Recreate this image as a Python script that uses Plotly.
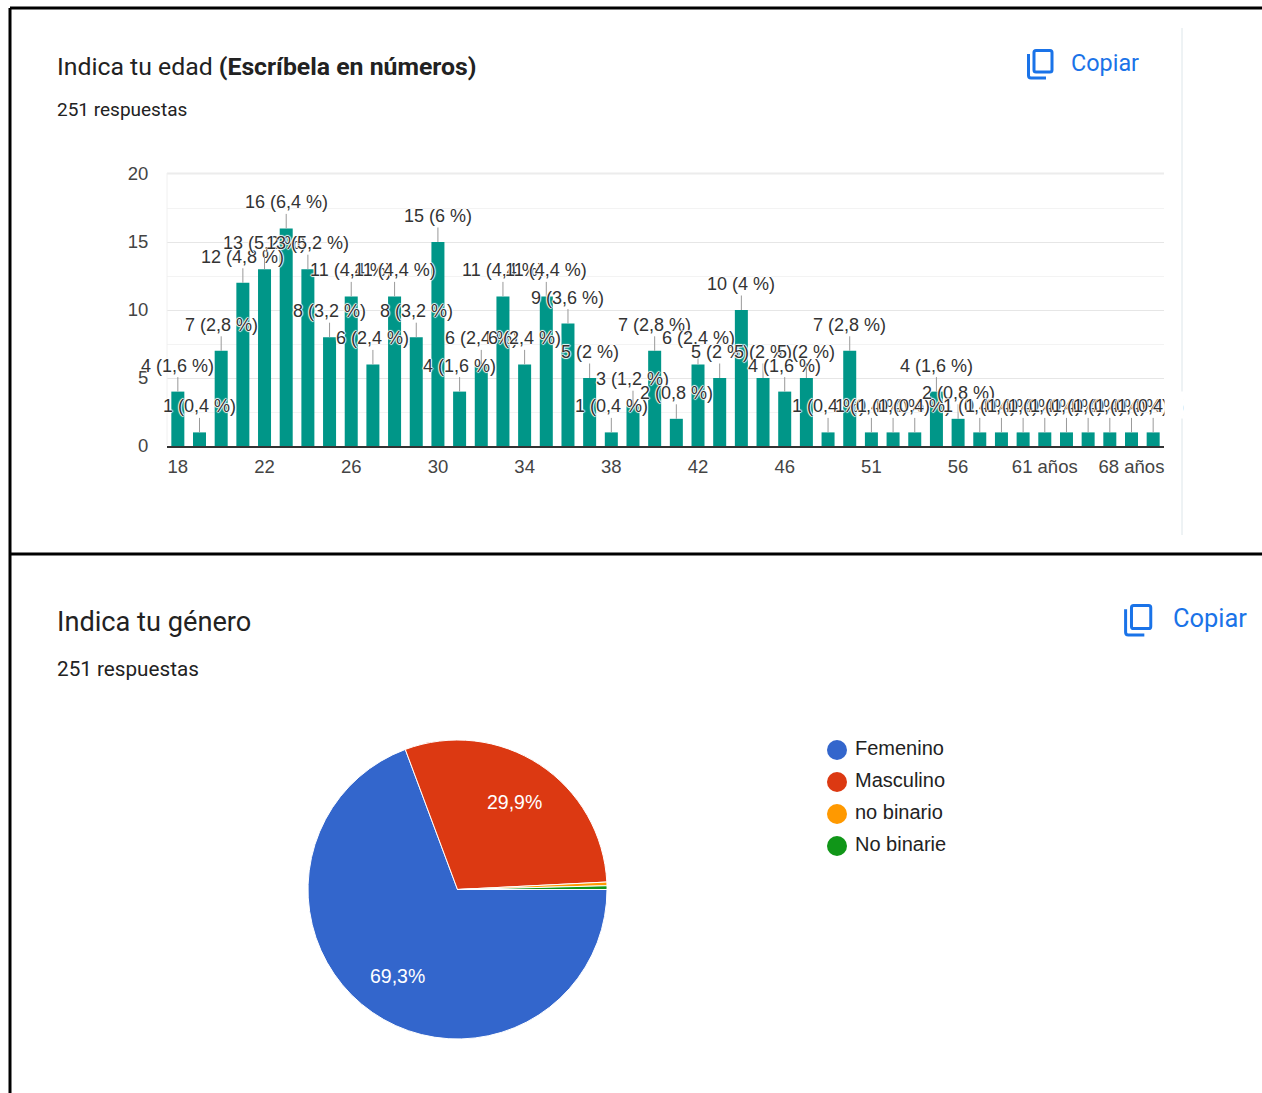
import plotly.graph_objects as go

W, H = 1262, 1093

# ---------- data ----------
age_categories = [str(a) for a in range(18, 50)] + ["51", "52", "54", "55", "56",
                  "57", "58", "60", "61 años", "62", "64", "65", "68 años", "70"]
age_counts = [4, 1, 7, 12, 13, 16, 13, 8, 11, 6, 11, 8, 15, 4, 6, 11, 6, 11, 9, 5, 1, 3, 7, 2,
              6, 5, 10, 5, 4, 5, 1, 7, 1, 1, 1, 4, 2, 1, 1, 1, 1, 1, 1, 1, 1, 1]
age_percent_labels = ["1,6", "0,4", "2,8", "4,8", "5,2", "6,4", "5,2", "3,2", "4,4", "2,4", "4,4", "3,2",
                      "6", "1,6", "2,4", "4,4", "2,4", "4,4", "3,6", "2", "0,4", "1,2", "2,8", "0,8",
                      "2,4", "2", "4", "2", "1,6", "2", "0,4", "2,8", "0,4", "0,4", "0,4", "1,6", "0,8",
                      "0,4", "0,4", "0,4", "0,4", "0,4", "0,4", "0,4", "0,4", "0,4"]
age_tick_step = 4

gender_names = ["Femenino", "Masculino", "no binario", "No binarie"]
gender_counts = [174, 75, 1, 1]
gender_labels = ["69,3%", "29,9%", "", ""]
gender_colors = ["#3366cc", "#dc3912", "#ff9900", "#109618"]

TEAL = "#009688"
INK = "#222222"
LABEL_INK = "#333333"
BLUE = "#1a73e8"
DIVIDER = "#dde6ea"
LABEL_FONT = "Liberation Sans, Arial, sans-serif"
UI_FONT = "Roboto, Arial, sans-serif"
HALO = "1px 0 1px #fff, -1px 0 1px #fff, 0 1px 1px #fff, 0 -1px 1px #fff"


def px(x):
    return x / W


def py(y):
    return 1 - y / H


fig = go.Figure()
age_index = list(range(len(age_categories)))

fig.add_trace(go.Bar(x=age_index, y=age_counts, marker=dict(color=TEAL, line=dict(width=0)),
                     width=0.6, showlegend=False, customdata=age_categories,
                     hovertemplate="%{customdata}: %{y}<extra></extra>"))

fig.add_trace(go.Pie(labels=gender_names, values=gender_counts, textinfo="none", sort=False,
                     direction="clockwise", rotation=90, showlegend=False,
                     marker=dict(colors=gender_colors, line=dict(color="#fff", width=1)),
                     domain=dict(x=[px(308), px(607)], y=[py(1039), py(740)])))

fig.add_trace(go.Scatter(x=[0] * len(gender_names), y=gender_names, xaxis="x2", yaxis="y2",
                         mode="markers", marker=dict(size=20, color=gender_colors), showlegend=False,
                         hoverinfo="y"))
fig.add_trace(go.Scatter(x=[18] * len(gender_names), y=gender_names, xaxis="x2", yaxis="y2",
                         mode="text", text=gender_names, textposition="middle right",
                         textfont=dict(family=LABEL_FONT, size=20, color=INK), showlegend=False,
                         hoverinfo="skip"))

annotations = []


def note(x, y, text, size, color=INK, font=UI_FONT, xanchor="left"):
    annotations.append(dict(xref="paper", yref="paper", x=px(x), y=py(y), text=text, showarrow=False,
                            xanchor=xanchor, yanchor="middle",
                            font=dict(family=font, size=size, color=color)))


for i, (v, pct) in enumerate(zip(age_counts, age_percent_labels)):
    annotations.append(dict(xref="x", yref="y", x=i, y=v, text=f"{v} ({pct} %)",
                            font=dict(family=LABEL_FONT, size=18, color=LABEL_INK, shadow=HALO),
                            showarrow=True, ax=0, ay=-26, arrowhead=0,
                            arrowwidth=1, arrowcolor="#999", standoff=0))

# trim the last label at the right edge of the plot, leaving the divider line visible between them
annotations.append(dict(xref="paper", yref="paper", x=px(1164), y=py(405), xanchor="left", yanchor="middle",
                        text=" ", showarrow=False, width=17.5, height=26, bgcolor="#fff", borderpad=0))
annotations.append(dict(xref="paper", yref="paper", x=px(1182.5), y=py(405), xanchor="left", yanchor="middle",
                        text=" ", showarrow=False, width=12, height=26, bgcolor="#fff", borderpad=0))

note(55, 67, "Indica tu edad <b>(Escríbela en números)</b>", 24.8)
note(55, 110, "251 respuestas", 19)
note(1069, 63, "Copiar", 23.4, color=BLUE)
note(55, 622, "Indica tu género", 27.2)
note(55, 669, "251 respuestas", 20.7)
note(1171, 618, "Copiar", 25.4, color=BLUE)
note(398, 976, gender_labels[0], 19.5, color="#fff", font=LABEL_FONT, xanchor="center")
note(514, 802, gender_labels[1], 19.5, color="#fff", font=LABEL_FONT, xanchor="center")

shapes = []


def rule(x0, y0, x1, y1, color, width):
    shapes.append(dict(type="line", xref="paper", yref="paper", x0=px(x0), y0=py(y0), x1=px(x1), y1=py(y1),
                       line=dict(color=color, width=width)))


rule(10, 8, W, 8, "#000", 3)
rule(10, 554, W, 554, "#000", 3)
rule(10, 8, 10, H, "#000", 3)
rule(1182, 28, 1182, 535, DIVIDER, 1)
rule(167, 173.5, 1164, 173.5, "#ececec", 2)
rule(167, 173, 167, 445, "#f0f0f0", 1)


def copy_icon(dx, dy, s=1.0):
    def P(x, y):
        return f"{px(1027 + dx + (x - 1027) * s):.5f},{py(49 + dy + (y - 49) * s):.5f}"
    rect = (f"M{P(1036, 50.5)} L{P(1050, 50.5)} Q{P(1052, 50.5)} {P(1052, 52.5)} L{P(1052, 70)} "
            f"Q{P(1052, 72)} {P(1050, 72)} L{P(1036, 72)} Q{P(1034, 72)} {P(1034, 70)} L{P(1034, 52.5)} "
            f"Q{P(1034, 50.5)} {P(1036, 50.5)} Z")
    ell = f"M{P(1028.5, 54)} L{P(1028.5, 75.5)} Q{P(1028.5, 78)} {P(1031, 78)} L{P(1046, 78)}"
    for path in (rect, ell):
        shapes.append(dict(type="path", xref="paper", yref="paper", path=path,
                           line=dict(color=BLUE, width=3)))


copy_icon(0, 0)
copy_icon(97, 555, 1.07)

fig.update_layout(
    width=W, height=H, autosize=False, margin=dict(l=0, r=0, t=0, b=0, autoexpand=False),
    paper_bgcolor="#fff", plot_bgcolor="#fff", showlegend=False, barmode="overlay",
    annotations=annotations, shapes=shapes,
    font=dict(family=LABEL_FONT, color=INK),
    xaxis=dict(domain=[px(167), px(1164)], type="linear", range=[-0.5, len(age_categories) - 0.5],
               tickmode="array", tickvals=age_index[::age_tick_step],
               ticktext=age_categories[::age_tick_step],
               ticks="outside", ticklen=3, tickcolor="rgba(0,0,0,0)", showgrid=False,
               showline=True, linecolor="#333", linewidth=2, zeroline=False,
               tickfont=dict(family=LABEL_FONT, size=18.5, color="#444")),
    yaxis=dict(domain=[py(446), py(174)], range=[0, 20], tickmode="array", tickvals=[0, 5, 10, 15, 20],
               ticks="outside", ticklen=14, tickcolor="rgba(0,0,0,0)", showgrid=True, gridcolor="#e6e6e6",
               gridwidth=1, zeroline=False, showline=False,
               minor=dict(dtick=2.5, showgrid=True, gridcolor="#f3f3f3", gridwidth=1, ticks=""),
               tickfont=dict(family=LABEL_FONT, size=18.5, color="#444")),
    xaxis2=dict(domain=[px(818), px(1000)], anchor="y2", range=[-19, 163], visible=False, fixedrange=True),
    yaxis2=dict(domain=[py(862), py(734)], anchor="x2", type="category", categoryorder="array",
                categoryarray=gender_names, range=[3.5, -0.5], visible=False, fixedrange=True),
)

fig.write_html("out.html", config=dict(displayModeBar=False),
               post_script="document.body.style.margin='0';")
